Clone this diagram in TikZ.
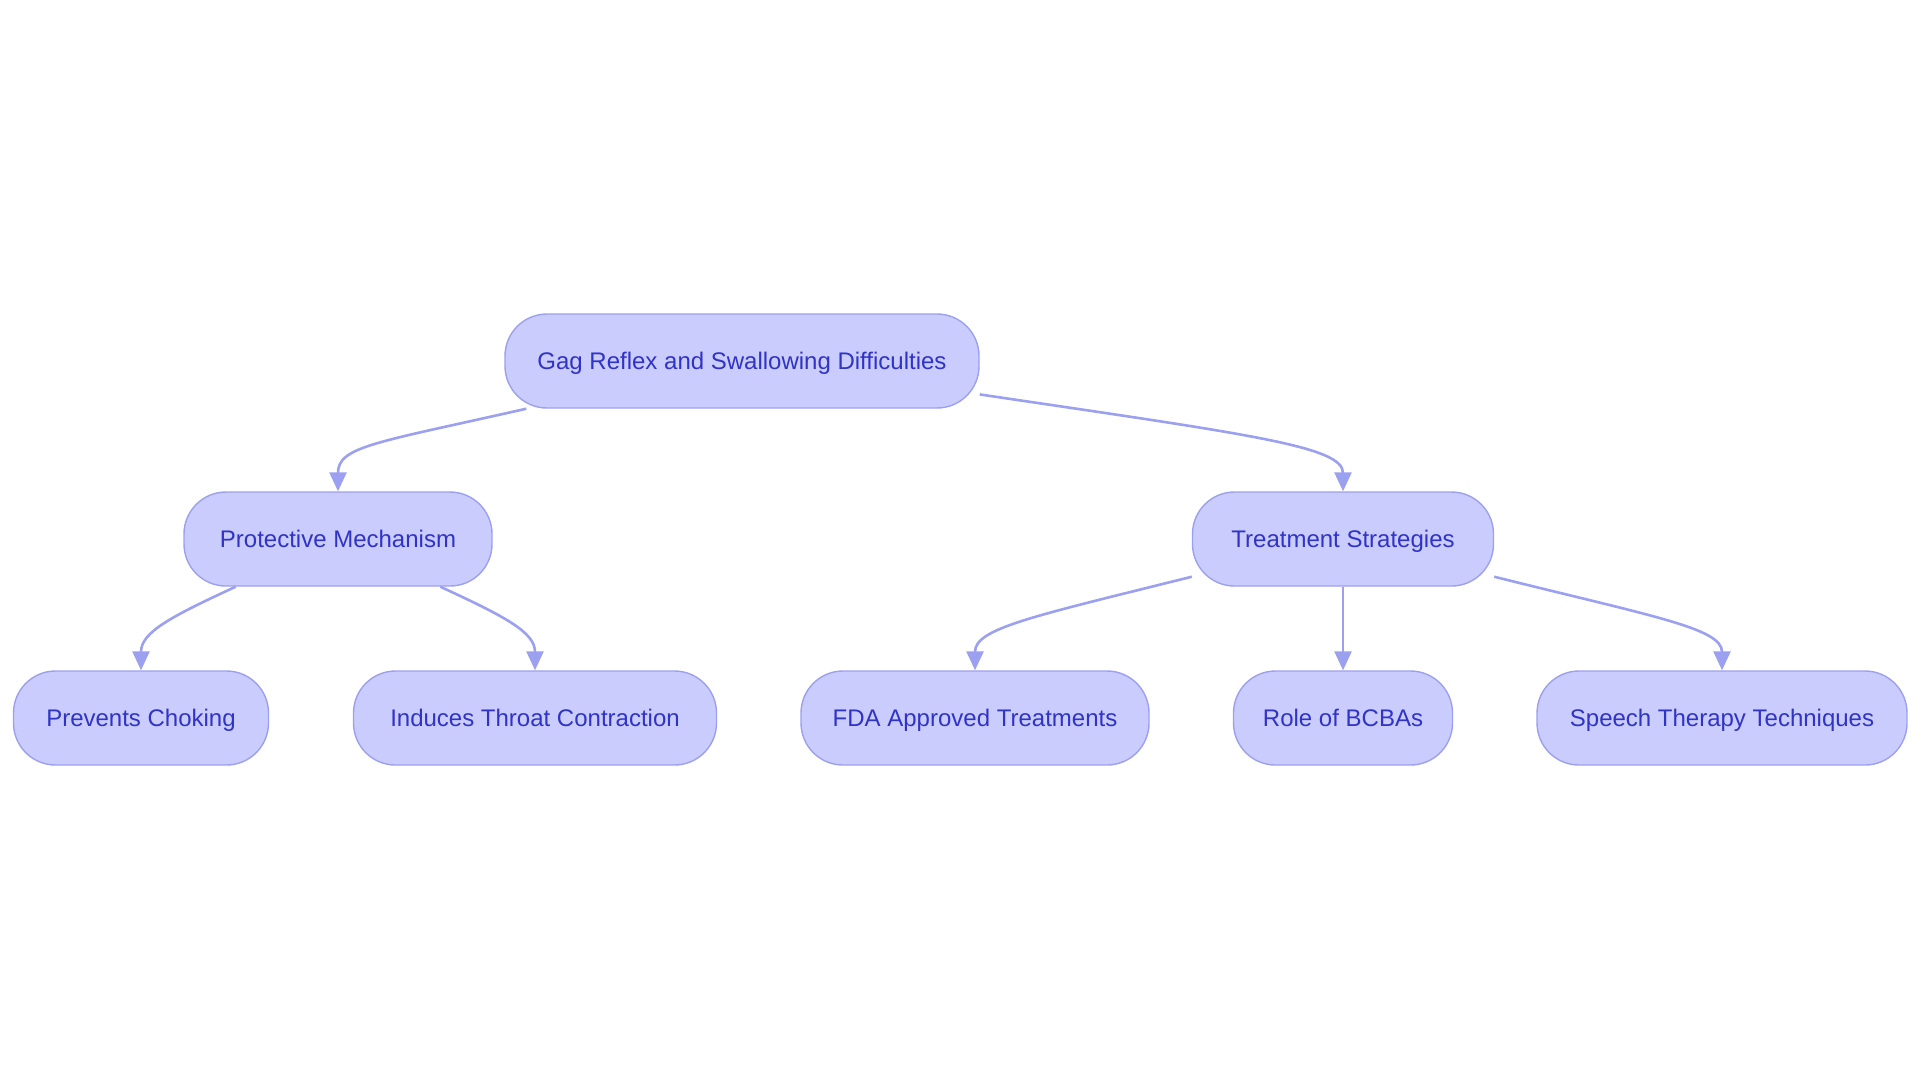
\documentclass[tikz,border=0pt]{standalone}
\usepackage{fontspec}
\setmainfont{Liberation Sans}
\usetikzlibrary{arrows.meta}
\definecolor{boxfill}{HTML}{CACCFD}
\definecolor{boxline}{HTML}{9CA0F0}
\definecolor{boxtext}{HTML}{2F33C6}
\definecolor{linkcol}{HTML}{9CA0F0}
\begin{document}
\begin{tikzpicture}[x=0.5pt, y=-0.5pt,
    box/.style={draw=boxline, line width=0.7pt, fill=boxfill, text=boxtext, rounded corners=21pt,
      minimum height=47pt, inner sep=0pt, text height=9.8pt, text depth=1.3pt, font=\fontsize{12}{14}\selectfont},
    link/.style={-{Triangle[width=8.5pt,length=9.5pt]}, draw=linkcol, line width=1.3pt}]
      \useasboundingbox (0,0) rectangle (1920,1083);

      \node[box, minimum width=237pt] (root) at (742,361) {Gag Reflex and Swallowing Difficulties};
      \node[box, minimum width=154pt] (protect) at (338,539) {Protective Mechanism};
      \node[box, minimum width=150.5pt] (treat) at (1343,539) {Treatment Strategies};
      \node[box, minimum width=127.5pt] (choke) at (141,718) {Prevents Choking};
      \node[box, minimum width=181.5pt] (throat) at (535,718) {Induces Throat Contraction};
      \node[box, minimum width=174pt] (fda) at (975,718) {FDA Approved Treatments};
      \node[box, minimum width=109.5pt] (bcba) at (1343,718) {Role of BCBAs};
      \node[box, minimum width=185pt] (speech) at (1722,718) {Speech Therapy Techniques};

      \draw[link] ([xshift=11pt]root.south west) .. controls +(-150,34) and +(0,-45) .. (protect.north);
      \draw[link] (root.-8) .. controls +(270,40) and +(0,-45) .. (treat.north);
      \draw[link] (protect.205) .. controls +(-65,30) and +(0,-38) .. (choke.north);
      \draw[link] (protect.-25) .. controls +(65,30) and +(0,-38) .. (throat.north);
      \draw[link] (treat.194) .. controls +(-160,40) and +(0,-42) .. (fda.north);
      \draw[link] (treat.south) -- (bcba.north);
      \draw[link] (treat.-14) .. controls +(160,40) and +(0,-42) .. (speech.north);
    \end{tikzpicture}
\end{document}
